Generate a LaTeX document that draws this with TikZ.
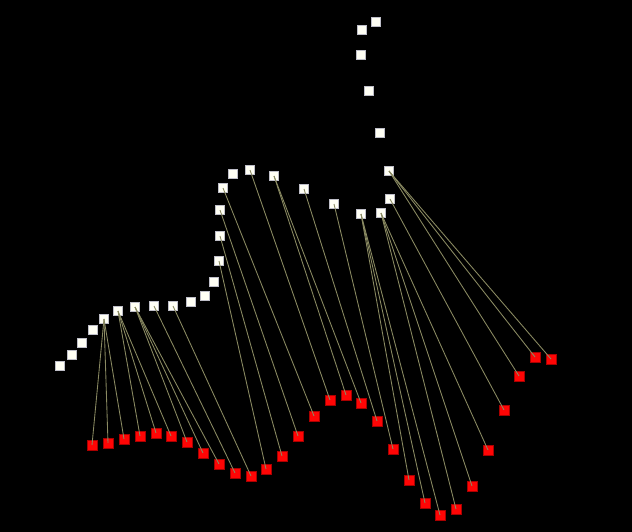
\documentclass[tikz,border=0pt]{standalone}
\begin{document}
\begin{tikzpicture}[x=0.75pt,y=-0.75pt,
  wsq/.style={draw={rgb,255:red,190;green,190;blue,200},fill={rgb,255:red,255;green,255;blue,245},minimum size=6.8pt,inner sep=0pt,line width=0.4pt},
  rsq/.style={draw={rgb,255:red,170;green,0;blue,0},fill={rgb,255:red,255;green,5;blue,5},minimum size=7.6pt,inner sep=0pt,line width=0.4pt},
  link/.style={draw={rgb,255:red,138;green,138;blue,98},line width=0.65pt}]
\fill[black] (0,0) rectangle (632,532);
\useasboundingbox (0,0) rectangle (632,532);
% white sequence
\foreach \n/\x/\y in {0/60/366,1/72/355,2/82/343,3/93/330,4/104/319,5/118/311,6/135/307,7/154/306,8/173/306,9/191/302,10/205/296,11/214/282,12/219/261,13/220/236,14/220/210,15/223/188,16/233/174,17/250/170,18/274/176,19/304/189,20/334/204,21/361/214,22/381/213,23/390/199,24/389/171,25/380/133,26/369/91,27/361/55,28/362/30,29/376/22}
  \node[wsq] (w\n) at (\x,\y) {};
% red sequence
\foreach \n/\x/\y in {0/92/445,1/108/443,2/124/439,3/140/436,4/156/433,5/171/436,6/187/442,7/203/453,8/219/464,9/235/473,10/251/476,11/266/469,12/282/456,13/298/436,14/314/416,15/330/400,16/346/395,17/361/403,18/377/421,19/393/449,20/409/480,21/425/503,22/440/515,23/456/509,24/472/486,25/488/450,26/504/410,27/519/376,28/535/357,29/551/359}
  \node[rsq] (r\n) at (\x,\y) {};
% correspondences
\foreach \a/\b in {4/0,4/1,4/2,5/3,5/4,5/5,6/6,6/7,6/8,7/9,8/10,12/11,13/12,14/13,15/14,17/15,18/16,18/17,19/18,20/19,21/20,21/21,21/22,22/23,22/24,22/25,23/26,24/27,24/28,24/29}
  \draw[link] (w\a.center) -- (r\b.center);
\end{tikzpicture}
\end{document}
